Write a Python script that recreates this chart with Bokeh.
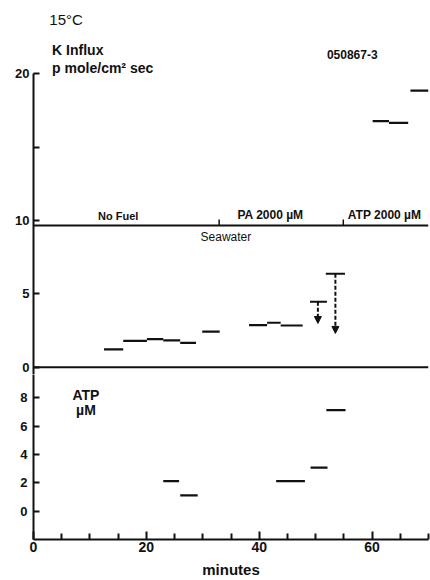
from bokeh.plotting import figure
from bokeh.layouts import column
from bokeh.models import (Range1d, FixedTicker, ColumnDataSource, Label, Arrow,
                          NormalHead)
from bokeh.embed import file_html
from bokeh.resources import INLINE

# K influx: each reading covers an interval of minutes (pmole/cm^2 sec)
k_start = [12.5, 15.9, 20.1, 23.0, 26.0, 29.9, 38.2, 41.4, 43.8, 49.0, 51.8, 60.1, 63.0, 66.8]
k_end = [15.9, 20.1, 23.0, 26.0, 28.8, 33.0, 41.4, 43.8, 47.7, 52.0, 55.2, 63.0, 66.4, 70.0]
k_flux = [1.21, 1.79, 1.91, 1.82, 1.66, 2.43, 2.86, 3.03, 2.84, 4.46, 6.37, 16.77, 16.66, 18.86]

# corrected influx shown by the dashed arrows
arrow_t = [50.4, 53.5]
arrow_from = [4.46, 6.37]
arrow_to = [2.98, 2.30]

# ATP concentration (uM) over the sampling intervals
atp_start = [23.0, 26.0, 43.0, 49.1, 51.9]
atp_end = [25.8, 29.1, 48.1, 52.1, 55.3]
atp_conc = [2.12, 1.11, 2.12, 3.08, 7.13]

# perfusion protocol: seawater baseline and times the solution changed
seawater_level = 9.66
solution_changes = [32.9, 54.9]
phase_labels = ["No Fuel", "PA 2000 \u00b5M", "ATP 2000 \u00b5M"]

k_ticks = [0, 5, 10, 15, 20]
atp_ticks = [0, 2, 4, 6, 8]
minute_ticks = [0, 20, 40, 60]
minute_minor = [5, 10, 15, 25, 30, 35, 45, 50, 55, 65, 70]

FONT = "Liberation Sans"
INK = "#111111"

x_range = Range1d(0, 70)

# ---------------- upper panel: K influx ----------------
p1 = figure(width=430, height=374, x_range=x_range, y_range=Range1d(-0.5, 25.0),
            output_backend="svg", toolbar_location=None, x_axis_location=None,
            min_border=0, min_border_left=33, min_border_right=2)
p1.outline_line_color = None
p1.grid.visible = False
p1.background_fill_color = "white"
p1.border_fill_color = "white"

ya = p1.yaxis[0]
ya.ticker = FixedTicker(ticks=k_ticks)
ya.major_label_overrides = {15: ""}
ya.bounds = (-0.5, 20)
ya.major_tick_in = 6
ya.major_tick_out = 0
ya.minor_tick_line_color = None
ya.axis_line_width = 2
ya.axis_line_color = INK
ya.major_tick_line_width = 2
ya.major_tick_line_color = INK
ya.major_label_standoff = 4
ya.major_label_text_font = FONT
ya.major_label_text_font_style = "bold"
ya.major_label_text_font_size = "13px"
ya.major_label_text_color = INK

# zero line separating the panels
p1.segment(x0=[0], y0=[0], x1=[70], y1=[0], line_color=INK, line_width=2)

# seawater baseline with protocol markers
p1.segment(x0=[0], y0=[seawater_level], x1=[70], y1=[seawater_level],
           line_color=INK, line_width=2)
p1.segment(x0=solution_changes, y0=[seawater_level] * 2, x1=solution_changes,
           y1=[seawater_level + 0.4] * 2, line_color=INK, line_width=1.5)

src_k = ColumnDataSource(dict(x0=k_start, x1=k_end, y=k_flux))
p1.segment(x0="x0", y0="y", x1="x1", y1="y", source=src_k, line_color=INK, line_width=2.2)

src_arrow = ColumnDataSource(dict(x=arrow_t, y0=arrow_from, y1=arrow_to))
p1.add_layout(Arrow(x_start="x", y_start="y0", x_end="x", y_end="y1", source=src_arrow,
                    line_color=INK, line_width=2, line_dash="4 2",
                    end=NormalHead(size=7, fill_color=INK, line_color=INK)))

def lab(p, x, y, text, size, style="bold", align="left", baseline="top"):
    p.add_layout(Label(x=x, y=y, text=text, text_font=FONT, text_font_size=size,
                       text_font_style=style, text_color=INK, text_align=align,
                       text_baseline=baseline))

lab(p1, 2.8, 24.3, "15\u00b0C", "15px", style="normal")
lab(p1, 3.3, 22.15, "K Influx", "14px")
lab(p1, 3.3, 20.95, "p mole/cm\u00b2 sec", "14px")
lab(p1, 52.0, 21.6, "050867-3", "12px")

lab(p1, 15.0, seawater_level + 0.25, phase_labels[0], "11px", align="center", baseline="bottom")
lab(p1, 42.0, seawater_level + 0.25, phase_labels[1], "12px", align="center", baseline="bottom")
lab(p1, 55.7, seawater_level + 0.25, phase_labels[2], "12px", baseline="bottom")
lab(p1, 34.1, seawater_level - 0.3, "Seawater", "12px", style="normal", align="center")

# ---------------- lower panel: ATP ----------------
p2 = figure(width=430, height=206, x_range=x_range, y_range=Range1d(-2.0, 9.65),
            output_backend="svg", toolbar_location=None,
            min_border=0, min_border_left=33, min_border_right=2, min_border_bottom=41)
p2.outline_line_color = None
p2.grid.visible = False
p2.background_fill_color = "white"
p2.border_fill_color = "white"

ay = p2.yaxis[0]
ay.ticker = FixedTicker(ticks=atp_ticks)
ay.major_tick_in = 6
ay.major_tick_out = 0
ay.minor_tick_line_color = None
ay.axis_line_width = 2
ay.axis_line_color = INK
ay.major_tick_line_width = 2
ay.major_tick_line_color = INK
ay.major_label_standoff = 6
ay.major_label_text_font = FONT
ay.major_label_text_font_style = "bold"
ay.major_label_text_font_size = "13px"
ay.major_label_text_color = INK

ax = p2.xaxis[0]
ax.ticker = FixedTicker(ticks=minute_ticks, minor_ticks=minute_minor)
ax.major_tick_in = 8
ax.major_tick_out = 0
ax.minor_tick_in = 6
ax.minor_tick_out = 0
ax.axis_line_width = 2
ax.axis_line_color = INK
ax.major_tick_line_width = 2
ax.minor_tick_line_width = 2
ax.major_tick_line_color = INK
ax.minor_tick_line_color = INK
ax.major_label_standoff = 2
ax.major_label_text_font = FONT
ax.major_label_text_font_style = "bold"
ax.major_label_text_font_size = "14px"
ax.major_label_text_color = INK
ax.axis_label = "minutes"
ax.axis_label_standoff = 6
ax.axis_label_text_font = FONT
ax.axis_label_text_font_style = "bold"
ax.axis_label_text_font_size = "15px"
ax.axis_label_text_color = INK

src_atp = ColumnDataSource(dict(x0=atp_start, x1=atp_end, y=atp_conc))
p2.segment(x0="x0", y0="y", x1="x1", y1="y", source=src_atp, line_color=INK, line_width=2.2)

lab(p2, 9.3, 8.75, "ATP", "14px", align="center")
lab(p2, 9.3, 7.7, "\u00b5M", "14px", align="center")

layout = column(p1, p2, spacing=0)
open("out.html", "w").write(file_html(layout, INLINE))
